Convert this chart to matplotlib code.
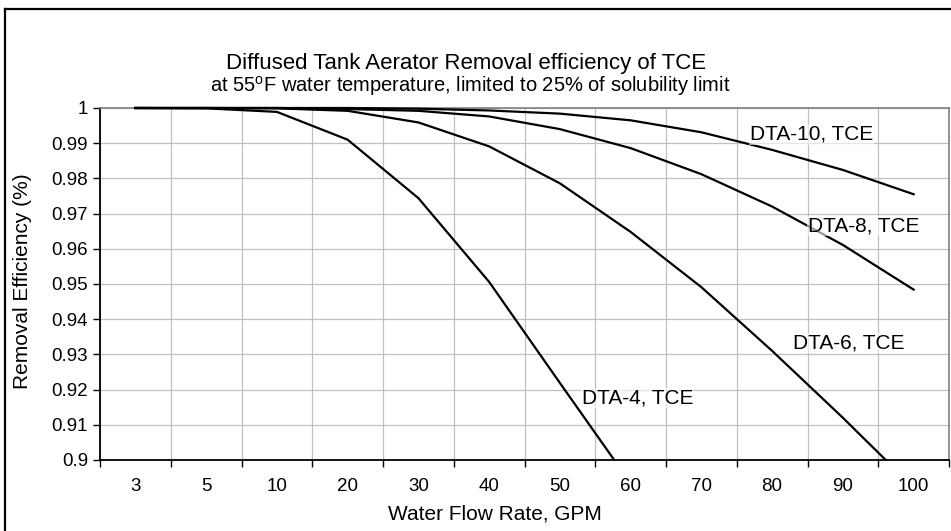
import numpy as np
import matplotlib
matplotlib.use("Agg")
import matplotlib.pyplot as plt
from matplotlib.patches import Rectangle
from matplotlib.lines import Line2D

plt.rcParams['font.family'] = ['Liberation Sans', 'DejaVu Sans']
plt.rcParams['mathtext.fontset'] = 'custom'
plt.rcParams['mathtext.rm'] = 'Liberation Sans'

categories = ["3", "5", "10", "20", "30", "40", "50", "60", "70", "80", "90", "100"]
dta4 = [1.0, 0.9999, 0.9989, 0.9910, 0.9744, 0.9506, 0.9219, 0.8934, np.nan, np.nan, np.nan, np.nan]
dta6 = [1.0, 1.0, 0.9999, 0.9992, 0.9959, 0.9891, 0.9786, 0.9648, 0.9491, 0.9310, 0.9120, 0.8922]
dta8 = [1.0, 1.0, 1.0, 0.9997, 0.9992, 0.9976, 0.9940, 0.9886, 0.9812, 0.9720, 0.9611, 0.9484]
dta10 = [1.0, 1.0, 1.0, 1.0, 0.9998, 0.9993, 0.9984, 0.9965, 0.9931, 0.9881, 0.9824, 0.9755]
yticks = [0.9, 0.91, 0.92, 0.93, 0.94, 0.95, 0.96, 0.97, 0.98, 0.99, 1.0]
ytick_labels = ["0.9", "0.91", "0.92", "0.93", "0.94", "0.95", "0.96", "0.97", "0.98", "0.99", "1"]

W, H = 951, 531
fig = plt.figure(figsize=(W / 100, H / 100), dpi=100)
ax = fig.add_axes([100 / W, 1 - 460 / H, 849 / W, 352 / H])

x = np.arange(len(categories))
clip = Rectangle((0, 0), 1, 1.02, transform=ax.transAxes)
for series in (dta4, dta6, dta8, dta10):
    ln, = ax.plot(x, series, color='black', lw=1.6, zorder=3)
    ln.set_clip_path(clip)

ax.set_xlim(-0.5, len(categories) - 0.5)
ax.set_ylim(0.9, 1.0)

ax.set_xticks(np.arange(-0.5, len(categories), 1.0))
ax.set_xticklabels([])
ax.set_xticks(x, minor=True)
ax.set_xticklabels(categories, minor=True)
ax.tick_params(axis='x', which='minor', length=0, pad=13, labelsize=13.5)
ax.tick_params(axis='x', which='major', length=5, width=1, direction='out', color='black')
ax.set_yticks(yticks)
ax.set_yticklabels(ytick_labels)
ax.tick_params(axis='y', length=5, width=1, direction='out', labelsize=13.5, pad=3.6)

ax.grid(True, which='major', color='#c0c0c0', lw=0.9)
ax.set_axisbelow(True)

for s in ('top', 'right'):
    ax.spines[s].set_color('#808080')
    ax.spines[s].set_linewidth(1.2)
for s in ('left', 'bottom'):
    ax.spines[s].set_color('black')
    ax.spines[s].set_linewidth(1.3)

ax.set_xlabel("Water Flow Rate, GPM", fontsize=15, va='top')
ax.xaxis.set_label_coords((494.5 - 100) / 849, -(505 - 460) / 352)
ax.set_ylabel("Removal Efficiency (%)", fontsize=15, va='center')
ax.yaxis.set_label_coords((23 - 100) / 849, (460 - 281) / 352)

box = dict(facecolor='white', edgecolor='none', alpha=0.6, pad=0.5)
ax.text(8.687, 0.99094, "DTA-10, TCE", fontsize=15, ha='left', va='baseline', bbox=box, zorder=4)
ax.text(9.507, 0.96484, "DTA-8, TCE", fontsize=15, ha='left', va='baseline', bbox=box, zorder=4)
ax.text(9.29, 0.93162, "DTA-6, TCE", fontsize=15, ha='left', va='baseline', bbox=box, zorder=4)
ax.text(6.308, 0.91595, "DTA-4, TCE", fontsize=15, ha='left', va='baseline', bbox=box, zorder=4)

fig.text(466 / W, 1 - 69 / H, "Diffused Tank Aerator Removal efficiency of TCE",
         fontsize=16, ha='center', va='baseline')
fig.text(470 / W, 1 - 92 / H, "at 55$^{\\mathrm{o}}$F water temperature, limited to 25% of solubility limit",
         fontsize=14.5, ha='center', va='baseline')

fig.add_artist(Line2D([4.5 / W, 4.5 / W], [0, 1 - 9 / H], transform=fig.transFigure, color='black', lw=1.6))
fig.add_artist(Line2D([4.5 / W, 1], [1 - 9 / H, 1 - 9 / H], transform=fig.transFigure, color='black', lw=1.6))

fig.savefig("out.png", dpi=100)
